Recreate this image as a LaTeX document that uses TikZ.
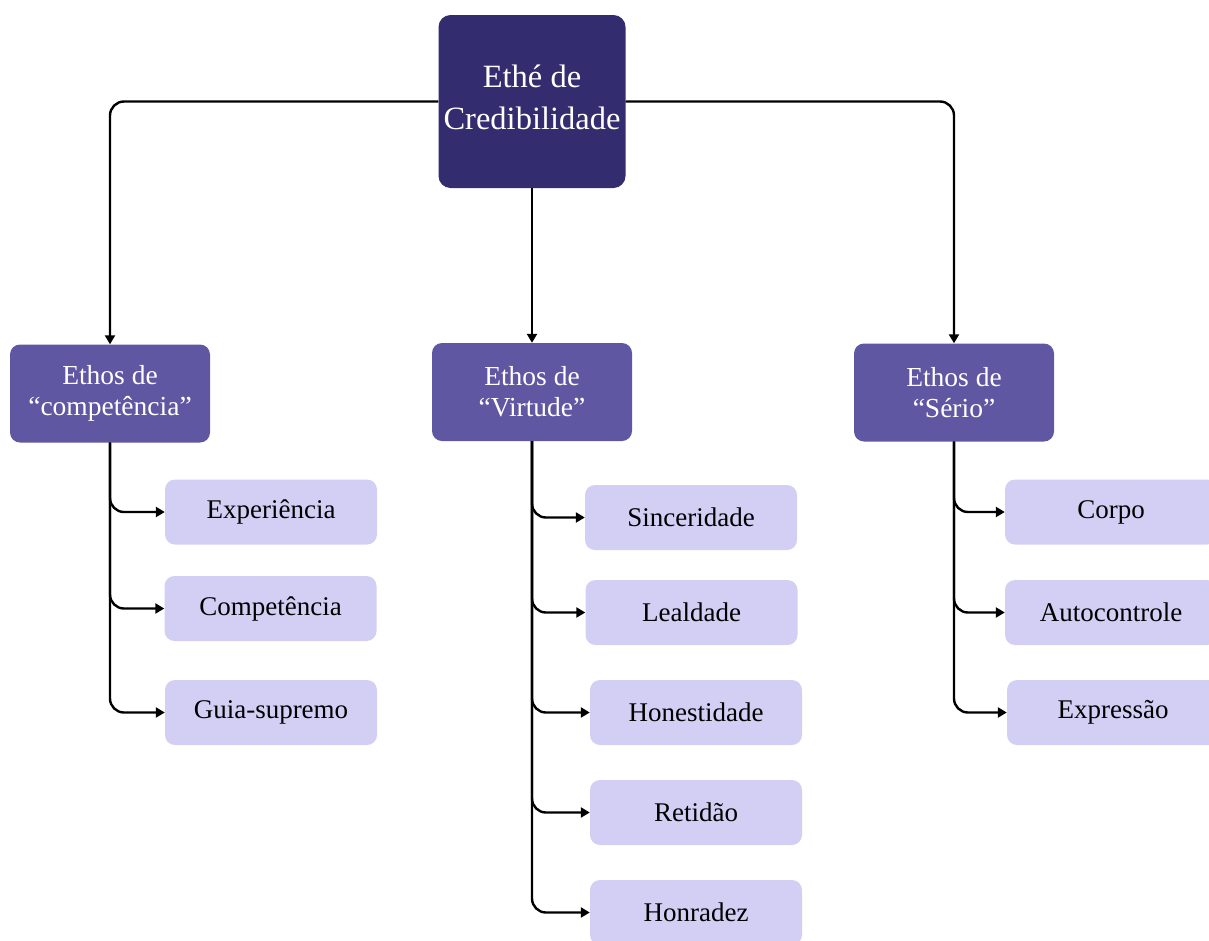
\documentclass[tikz,border=0pt]{standalone}
\usepackage{fontspec}
\setmainfont{Liberation Serif}
\usetikzlibrary{arrows.meta}
\definecolor{topc}{HTML}{332C6E}
\definecolor{midc}{HTML}{5F57A1}
\definecolor{leafc}{HTML}{D3CEF4}
\tikzset{
  topbox/.style={draw=none,fill=topc,rounded corners=12pt,text=white,align=center,
    minimum width=187pt,minimum height=173pt,inner sep=0pt,text depth=8pt,
    font=\fontsize{32.5}{42}\selectfont},
  midbox/.style={draw=none,fill=midc,rounded corners=10pt,text=white,align=center,
    minimum width=200pt,minimum height=98pt,inner sep=0pt,font=\fontsize{27.5}{31}\selectfont},
  leafbox/.style={draw=none,fill=leafc,rounded corners=10pt,text=black,align=center,
    minimum width=212pt,minimum height=65pt,inner sep=0pt,font=\fontsize{27}{30}\selectfont},
  conn/.style={draw=black,line width=2.4pt,rounded corners=14pt,-{Triangle[length=9pt,width=10pt]}},
}
\begin{document}
\begin{tikzpicture}[x=1pt,y=-1pt]
\useasboundingbox (0,0) rectangle (1209,940);
\begin{scope}
\clip (0,0) rectangle (1209,940);
\node[topbox] (top) at (532,101.5) {Ethé de\\Credibilidade};
\node[midbox] (m1) at (110,393.5) {Ethos de\\“competência”};
\node[midbox] (m2) at (532,392) {Ethos de\\“Virtude”};
\node[midbox] (m3) at (954,392.5) {Ethos de\\“Sério”};

\node[leafbox] (a1) at (271,512) {Experiência};
\node[leafbox] (a2) at (270.5,608.5) {Competência};
\node[leafbox] (a3) at (271,712.5) {Guia-supremo};

\node[leafbox] (b1) at (691,517.5) {Sinceridade};
\node[leafbox] (b2) at (691.5,612.5) {Lealdade};
\node[leafbox] (b3) at (696,712.5) {Honestidade};
\node[leafbox] (b4) at (696,812.5) {Retidão};
\node[leafbox] (b5) at (696,912.5) {Honradez};

\node[leafbox] (c1) at (1111,512) {Corpo};
\node[leafbox] (c2) at (1111,612.5) {Autocontrole};
\node[leafbox] (c3) at (1113,712.5) {Expressão};

\draw[conn] (top.west) -| (m1.north);
\draw[conn] (top.east) -| (m3.north);
\draw[conn] (top.south) -- (m2.north);

\foreach \c in {a1,a2,a3} \draw[conn] (m1.south) |- (\c.west);
\foreach \c in {b1,b2,b3,b4,b5} \draw[conn] (m2.south) |- (\c.west);
\foreach \c in {c1,c2,c3} \draw[conn] (m3.south) |- (\c.west);
\end{scope}
\end{tikzpicture}
\end{document}
